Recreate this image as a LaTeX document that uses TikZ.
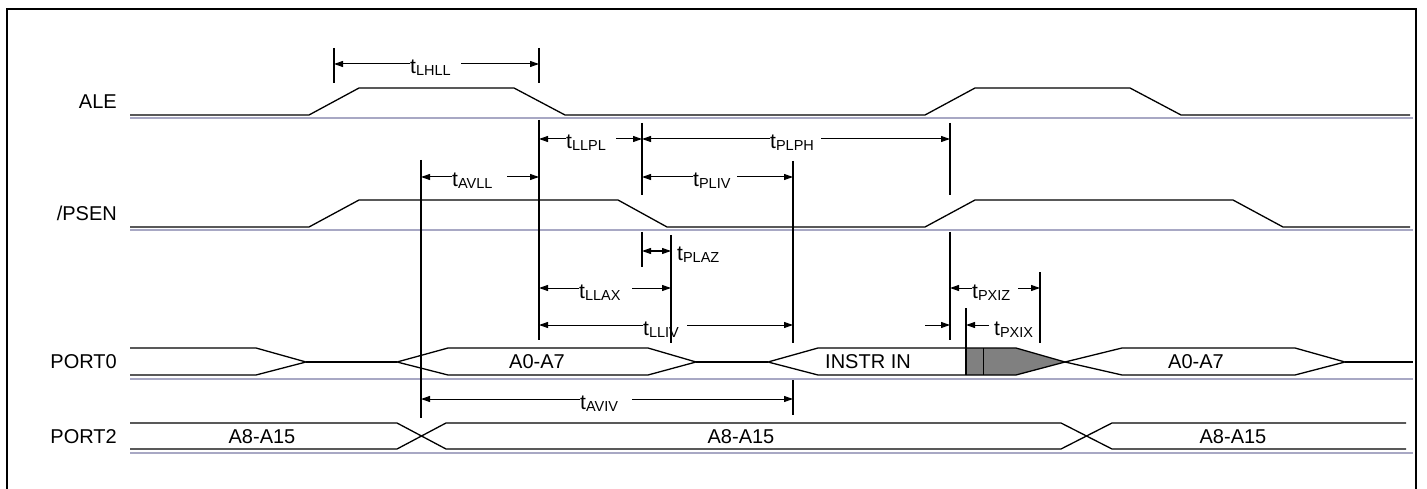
\documentclass[tikz,border=0pt]{standalone}
\usepackage{fontspec}
\setmainfont{Liberation Sans}
\usetikzlibrary{arrows.meta}
\definecolor{basecol}{RGB}{168,168,196}
\definecolor{shadecol}{RGB}{128,128,128}
\newcommand\tsub[1]{t\raisebox{-2pt}{\fontsize{14.5}{14.5}\selectfont #1}}
\tikzset{
  sig/.style={line width=1.3pt, line join=miter},
  basel/.style={line width=1.5pt, basecol},
  arr/.style={line width=1pt},
  tip/.style={-{Triangle[length=9pt,width=6pt]}},
  vline/.style={line width=1.7pt},
  vthick/.style={line width=2.2pt},
  lab/.style={font=\fontsize{20}{24}\selectfont, inner sep=0pt, anchor=base east},
  bus/.style={font=\fontsize{20}{24}\selectfont, inner sep=0pt, anchor=base},
  tl/.style={font=\fontsize{21}{24}\selectfont, inner sep=0pt, anchor=base west},
}
% y, left end, right end, text left, line resume, name
\newcommand\dimlab[6]{%
  \node[tl] (#6) at (#4,#1+10) {\tsub{#6}};
  \draw[arr,tip] (#4,#1) -- (#2,#1);
  \draw[arr,tip] (#5,#1) -- (#3,#1);
}
\begin{document}
\begin{tikzpicture}[x=1pt,y=-1pt]
\useasboundingbox (0,0) rectangle (1427,489);
% frame
\draw[line width=1.3pt] (7,495) -- (7,9) -- (1416,9) -- (1416,495);

% signal labels
\node[lab] (ale) at (117,109) {ALE};
\node[lab] (psen) at (117,221) {/PSEN};
\node[lab] (p0) at (117,368) {PORT0};
\node[lab] (p2) at (117,443) {PORT2};

% ALE
\draw[sig] (130,115) -- (309,115) -- (359,88) -- (514,88) -- (565,115) -- (925,115) -- (975,88) -- (1130,88) -- (1181,115) -- (1410,115);
\draw[basel] (130,118) -- (1413,118);
% /PSEN
\draw[sig] (130,227) -- (309,227) -- (359,200) -- (618,200) -- (667,227) -- (925,227) -- (975,200) -- (1233,200) -- (1283,227) -- (1410,227);
\draw[basel] (130,230) -- (1413,230);

% PORT0
\fill[shadecol] (966,348) -- (1016,348) -- (1065,362) -- (1016,375) -- (966,375) -- cycle;
\draw[sig] (130,348) -- (256,348) -- (306,362) -- (256,375) -- (130,375);
\draw[sig] (306,362) -- (397,362);
\draw[sig] (397,362) -- (448,348) -- (648,348) -- (696,362) -- (648,375) -- (448,375) -- cycle;
\draw[sig] (696,362) -- (768,362);
\draw[sig] (768,362) -- (818,348) -- (1016,348) -- (1065,362) -- (1016,375) -- (818,375) -- cycle;
\draw[arr] (983,348) -- (983,375);
\draw[sig] (1065,362) -- (1122,348) -- (1295,348) -- (1345,362) -- (1295,375) -- (1122,375) -- cycle;
\draw[sig] (1345,362) -- (1413,362);
\draw[basel] (130,379) -- (1413,379);
\node[bus] (a07a) at (537,368) {A0-A7};
\node[bus] (instr) at (868,368) {INSTR IN};
\node[bus] (a07b) at (1196,368) {A0-A7};

% PORT2
\draw[sig] (130,423) -- (397,423) -- (446,449) -- (1061,449) -- (1112,423) -- (1406,423);
\draw[sig] (130,449) -- (397,449) -- (446,423) -- (1061,423) -- (1112,449) -- (1406,449);
\draw[basel] (130,453) -- (1413,453);
\node[bus] (a815a) at (262,443) {A8-A15};
\node[bus] (a815b) at (741,443) {A8-A15};
\node[bus] (a815c) at (1233,443) {A8-A15};

% vertical reference lines
\draw[vline] (334,48) -- (334,83);
\draw[vline] (539,48) -- (539,83);
\draw[vthick] (539,120) -- (539,340);
\draw[vthick] (421,160) -- (421,418);
\draw[vline] (642,123) -- (642,195);
\draw[vline] (642,232) -- (642,267);
\draw[vline] (950,123) -- (950,195);
\draw[vline] (950,232) -- (950,340);
\draw[vline] (793,161) -- (793,343);
\draw[vline] (793,380) -- (793,415);
\draw[vline] (671,235) -- (671,343);
\draw[vline] (1040,272) -- (1040,343);
\draw[vline] (966,308) -- (966,375);

% timing dimensions
\dimlab{64}{334}{539}{410}{461}{LHLL}
\dimlab{139}{539}{642}{566}{616}{LLPL}
\dimlab{139}{642}{950}{770}{821}{PLPH}
\dimlab{177}{421}{539}{452}{507}{AVLL}
\dimlab{177}{642}{793}{693}{737}{PLIV}
\dimlab{288}{539}{671}{579}{632}{LLAX}
\dimlab{325}{539}{793}{643}{687}{LLIV}
\dimlab{399}{421}{793}{580}{632}{AVIV}
\dimlab{288}{950}{1040}{972}{1018}{PXIZ}
% tPLAZ
\draw[arr,{Triangle[length=9pt,width=6pt]}-{Triangle[length=9pt,width=6pt]}] (642,251) -- (671,251);
\node[tl] (PLAZ) at (677,260) {\tsub{PLAZ}};
% tPXIX
\draw[arr,tip] (925,325) -- (950,325);
\draw[arr,tip] (989,325) -- (966,325);
\node[tl] (PXIX) at (994,335) {\tsub{PXIX}};
\end{tikzpicture}
\end{document}
